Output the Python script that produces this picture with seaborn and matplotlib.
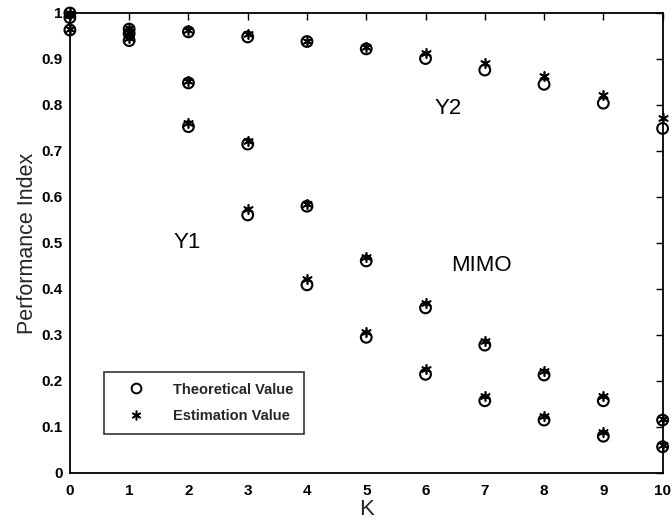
import matplotlib
matplotlib.use("Agg")
import matplotlib.pyplot as plt
from matplotlib.lines import Line2D
import seaborn as sns
import pandas as pd

K = [0, 1, 2, 3, 4, 5, 6, 7, 8, 9, 10]

# Y2 (top series)
y2_theory = [0.963, 0.955, 0.959, 0.948, 0.938, 0.922, 0.901, 0.876, 0.845, 0.804, 0.749]
y2_estim = [0.965, 0.958, 0.962, 0.955, 0.940, 0.925, 0.914, 0.892, 0.862, 0.822, 0.771]
# MIMO (middle series)
mimo_theory = [0.99, 0.965, 0.848, 0.715, 0.580, 0.461, 0.359, 0.278, 0.213, 0.157, 0.115]
mimo_estim = [0.995, 0.968, 0.853, 0.722, 0.584, 0.470, 0.369, 0.288, 0.222, 0.167, 0.118]
# Y1 (bottom series)
y1_theory = [1.0, 0.94, 0.753, 0.561, 0.409, 0.295, 0.2145, 0.157, 0.115, 0.080, 0.057]
y1_estim = [1.0, 0.945, 0.760, 0.574, 0.421, 0.306, 0.225, 0.167, 0.124, 0.090, 0.061]

series_labels = ["Y2", "MIMO", "Y1"]
label_pos_x = [6.38, 6.94, 1.98]
label_pos_y = [0.793, 0.45, 0.50]

legend_labels = ["Theoretical Value", "Estimation Value"]

rows = []
for name, th, es in [("Y2", y2_theory, y2_estim), ("MIMO", mimo_theory, mimo_estim),
                     ("Y1", y1_theory, y1_estim)]:
    for k, t, e in zip(K, th, es):
        rows.append({"K": k, "value": t, "series": name, "kind": legend_labels[0]})
        rows.append({"K": k, "value": e, "series": name, "kind": legend_labels[1]})
df = pd.DataFrame(rows)

sns.set_theme(style="white")
plt.rcParams["font.family"] = ["Liberation Sans", "DejaVu Sans"]

fig = plt.figure(figsize=(6.72, 5.2), dpi=100)
ax = fig.add_axes([0.104, 0.0904, 0.882, 0.8846])

ast = (6, 2, 0)
th_df = df[df["kind"] == legend_labels[0]]
es_df = df[df["kind"] == legend_labels[1]]
sns.scatterplot(data=th_df, x="K", y="value", marker="o", s=60,
                facecolors="none", edgecolors="black", linewidth=1.5, ax=ax,
                legend=False, clip_on=False, zorder=3)
sns.scatterplot(data=es_df, x="K", y="value", marker=ast, s=45,
                color="black", linewidth=1.2, ax=ax, legend=False,
                clip_on=False, zorder=4)

for lab, lx, ly in zip(series_labels, label_pos_x, label_pos_y):
    ax.text(lx, ly, lab, fontsize=16, color="black", ha="center", va="center")

ax.set_xlim(0, 10)
ax.set_ylim(0, 1)
ax.set_xticks(range(0, 11))
ax.set_yticks([i / 10 for i in range(11)])
ax.set_yticklabels(["0", "0.1", "0.2", "0.3", "0.4", "0.5", "0.6", "0.7", "0.8", "0.9", "1"])
ax.tick_params(direction="in", length=5, width=1, top=True, right=True,
               labelsize=11, colors="black")
ax.tick_params(axis="x", pad=8)
ax.tick_params(axis="y", pad=5)
for lab in ax.get_xticklabels() + ax.get_yticklabels():
    lab.set_fontweight("bold")
for sp in ax.spines.values():
    sp.set_color("black")
    sp.set_linewidth(1.3)
ax.set_xlabel("K", fontsize=16, labelpad=1)
ax.set_ylabel("Performance Index", fontsize=15.5, labelpad=3)

handles = [
    Line2D([], [], marker="o", linestyle="none", markerfacecolor="none",
           markeredgecolor="black", markersize=7, markeredgewidth=1.4),
    Line2D([], [], marker=ast, linestyle="none", color="black",
           markersize=7, markeredgewidth=1.1),
]
leg = ax.legend(handles, legend_labels, loc="lower left",
                bbox_to_anchor=(0.057, 0.085), borderaxespad=0,
                frameon=True, fancybox=False,
                edgecolor="black", fontsize=10.5, handletextpad=1.0,
                borderpad=0.75, labelspacing=0.85, handlelength=3.0)
leg.get_frame().set_linewidth(1.2)
for t in leg.get_texts():
    t.set_fontweight("bold")

fig.savefig("out.png", dpi=100)
